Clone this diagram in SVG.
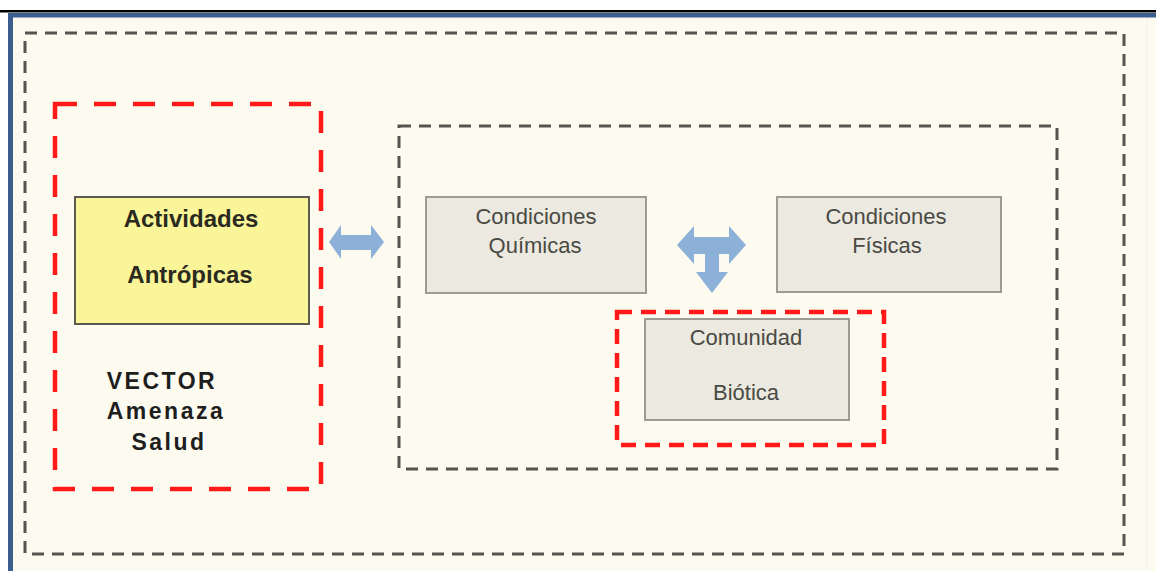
<svg xmlns="http://www.w3.org/2000/svg" width="1156" height="571" viewBox="0 0 1156 571">
  <style>
    .gdash { fill: none; stroke: #555550; stroke-width: 3; stroke-dasharray: 12 8; }
    .rdash { fill: none; stroke: #ff1a1a; stroke-width: 4.5; stroke-dasharray: 22 17; }
    .rdash2 { fill: none; stroke: #ff1a1a; stroke-width: 4.5; stroke-dasharray: 15 9; }
    .gbox { fill: #ebe9e0; stroke: #9c9c94; stroke-width: 2; }
    .gtxt { font-family: "Liberation Sans", Arial, sans-serif; font-size: 22px; fill: #4a4a44; text-anchor: middle; }
    .btxt { font-family: "Liberation Sans", Arial, sans-serif; font-size: 24px; font-weight: bold; fill: #2a2a20; text-anchor: middle; }
    .vtxt { font-family: "Liberation Sans", Arial, sans-serif; font-size: 23px; font-weight: bold; fill: #1e1e1e; text-anchor: middle; letter-spacing: 2.5px; }
    .arrow { fill: #8db0d8; }
  </style>
  <rect x="0" y="0" width="1156" height="571" fill="#ffffff"/>
  <rect x="0" y="10" width="1156" height="2.5" fill="#000000"/>
  <rect x="12" y="15" width="1144" height="556" fill="#fdfbf0"/>
  <rect x="8" y="13" width="1148" height="4.5" fill="#3b5e8f"/>
  <rect x="8" y="13" width="5" height="558" fill="#3b5e8f"/>
  <line x1="1147" y1="18" x2="1147" y2="571" stroke="#f3f1e6" stroke-width="1"/>

  <g id="outer-frame"><rect class="gdash" x="25" y="33" width="1099" height="521"/></g>
  <g id="vector-group"><rect class="rdash" x="55" y="104" width="266" height="385"/></g>
  <g id="ecosystem-group"><rect class="gdash" x="399" y="126" width="658" height="343"/></g>
  <g id="biotic-group"><rect class="rdash2" x="617" y="312" width="267" height="133"/></g>

  <g id="actividades">
    <rect x="75" y="197" width="234" height="127" fill="#fbf59a" stroke="#5a5a50" stroke-width="2"/>
    <text class="btxt" x="191" y="227">Actividades</text>
    <text class="btxt" x="190" y="283">Antrópicas</text>
  </g>

  <g id="vector-label">
    <text class="vtxt" x="162" y="389">VECTOR</text>
    <text class="vtxt" x="166" y="419">Amenaza</text>
    <text class="vtxt" x="169" y="450">Salud</text>
  </g>

  <g id="quimicas">
    <rect class="gbox" x="426" y="197" width="220" height="96"/>
    <text class="gtxt" x="536" y="224">Condiciones</text>
    <text class="gtxt" x="535" y="253">Químicas</text>
  </g>

  <g id="fisicas">
    <rect class="gbox" x="777" y="197" width="224" height="95"/>
    <text class="gtxt" x="886" y="224">Condiciones</text>
    <text class="gtxt" x="887" y="253">Físicas</text>
  </g>

  <g id="comunidad">
    <rect class="gbox" x="645" y="319" width="204" height="101"/>
    <text class="gtxt" x="746" y="345">Comunidad</text>
    <text class="gtxt" x="746" y="400">Biótica</text>
  </g>

  <g id="connectors">
    <path class="arrow" d="M329,242 L341,225 L341,235 L371,235 L371,225 L384,242 L371,259 L371,250 L341,250 L341,259 Z"/>
    <path class="arrow" d="M677,245 L694,226 L694,237 L729,237 L729,226 L746,245 L729,264 L729,254 L719,254 L719,272 L728,272 L712,293 L696,272 L705,272 L705,254 L694,254 L694,264 Z"/>
  </g>
</svg>
